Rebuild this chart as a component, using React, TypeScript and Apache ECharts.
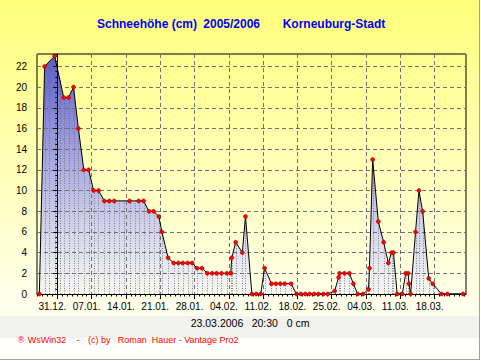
import React, { useEffect, useRef } from "react";
import * as echarts from "echarts";

// days relative to 31.12.2005 (0 = 31.12.)
const dayOffsets = [
  -3.67, -2.6, -0.55, 1.3, 2.3, 3.3, 4.3, 5.4, 6.4, 7.4, 8.4, 9.6, 10.6, 11.6, 14.75,
  16.6, 17.6, 18.7, 19.65, 20.7, 21.35, 22.6, 23.75, 24.7, 25.6, 26.6, 27.5, 28.5, 29.5,
  30.6, 31.6, 32.5, 33.5, 34.6, 35.4, 35.6, 36.4, 37.75, 38.4, 39.7, 40.6, 41.5, 42.3,
  43.7, 44.6, 45.5, 46.4, 47.7, 48.8, 49.7, 50.6, 51.5, 52.4, 53.3, 54.3, 55.2, 56.6,
  57.4, 57.6, 58.6, 59.6, 60.4, 61.3, 62.4, 63.5, 63.7, 64.35, 65.5, 66.6, 67.55, 68.2,
  68.6, 69.35, 70.4, 71.1, 71.6, 71.75, 72.1, 73.1, 73.8, 74.55, 75.8, 76.6, 78.4, 79.6,
  82.8,
];
const snowDepth = [
  0, 22, 23, 19, 19, 20, 16, 12, 12, 10, 10, 9, 9, 9, 9,
  9, 9, 8, 8, 7.5, 6, 3.5, 3, 3, 3, 3, 3, 2.5, 2.5,
  2, 2, 2, 2, 2, 2, 3.5, 5, 4, 7.5, 0, 0, 0, 2.5,
  1, 1, 1, 1, 1, 0, 0, 0, 0, 0, 0, 0, 0, 0.3,
  1.6, 2, 2, 2, 1, 0, 0, 0.45, 2.5, 13, 7, 5, 3, 4,
  4, 0, 0, 2, 2, 1, 0, 6, 10, 8, 1.5, 1, 0, 0,
  0,
];
const xTickDays = [0, 7, 14, 21, 28, 35, 42, 49, 56, 63, 70, 77];
const xTickLabels = [
  "31.12.", "07.01.", "14.01.", "21.01.", "28.01.", "04.02.",
  "11.02.", "18.02.", "25.02.", "04.03.", "11.03.", "18.03.",
];
const xMin = -4.15;
const xMax = 83.4;
const yMax = 23.2;

const points = dayOffsets.map((d, i) => [d, snowDepth[i]]);

// positions of the dotted daily drop lines (each reading, plus daily steps in gaps)
const dropDays: number[] = [];
dayOffsets.forEach((d, i) => {
  dropDays.push(d);
  const next = dayOffsets[i + 1];
  if (next !== undefined) {
    for (let t = d + 1; t < next - 0.5; t += 1) dropDays.push(t);
  }
});

const dailyTicks: number[] = [];
for (let t = Math.ceil(xMin); t <= Math.floor(xMax); t++) dailyTicks.push(t);

const narrow = "'Liberation Sans Narrow', 'Liberation Sans', Arial, sans-serif";
const sans = "'Liberation Sans', Arial, sans-serif";

export default function App() {
  const ref = useRef<HTMLDivElement>(null);
  useEffect(() => {
    const chart = echarts.init(ref.current!, null, { renderer: "svg" });
    const txt = (text: string, x: number, y: number, font: string, fill: string) => ({
      type: "text",
      silent: true,
      z: 10,
      style: { text, x, y, font, fill, verticalAlign: "middle", textVerticalAlign: "middle" },
    });
    const option: any = {
      animation: false,
      backgroundColor: "#ffffff",
      graphic: [
        {
          type: "rect", silent: true, z: -10,
          shape: { x: 0, y: 0, width: 479, height: 316 },
          style: {
            fill: {
              type: "linear", x: 0, y: 0, x2: 0, y2: 1,
              colorStops: [
                { offset: 0, color: "#ffff7a" },
                { offset: 1, color: "#fffff0" },
              ],
            },
          },
        },
        { type: "rect", silent: true, z: -10, shape: { x: 0, y: 316, width: 479, height: 22 }, style: { fill: "#f1f1ee" } },
        { type: "rect", silent: true, z: -10, shape: { x: 0, y: 338, width: 479, height: 21 }, style: { fill: "#fffffb" } },
        { type: "line", silent: true, z: 10, shape: { x1: 479.5, y1: 0, x2: 479.5, y2: 360 }, style: { stroke: "#a0a0a0", lineWidth: 1 } },
        { type: "line", silent: true, z: 10, shape: { x1: 0, y1: 359.5, x2: 480, y2: 359.5 }, style: { stroke: "#a0a0a0", lineWidth: 1 } },
        txt("Schneehöhe (cm)", 97, 23.5, `bold 12px ${sans}`, "#0000ff"),
        txt("2005/2006", 203.3, 23.5, `bold 12px ${sans}`, "#0000ff"),
        txt("Korneuburg-Stadt", 282.7, 23.5, `bold 12px ${sans}`, "#0000ff"),
        txt("23.03.2006", 190.7, 322.5, `10.5px ${sans}`, "#000000"),
        txt("20:30", 251.7, 322.5, `10.5px ${sans}`, "#000000"),
        txt("0 cm", 286.7, 322.5, `10.5px ${sans}`, "#000000"),
        txt("®", 17.7, 340, `9px ${sans}`, "#ff0000"),
        txt("WsWin32", 27.7, 340, `9px ${sans}`, "#ff0000"),
        txt("-", 76.5, 340, `9px ${sans}`, "#ff0000"),
        txt("(c) by", 88, 340, `9px ${sans}`, "#ff0000"),
        txt("Roman", 117.7, 340, `9px ${sans}`, "#ff0000"),
        txt("Hauer - Vantage Pro2", 151.7, 340, `9px ${sans}`, "#ff0000"),
      ],
      grid: {
        left: 37, top: 54, width: 429, height: 240,
        show: true, borderColor: "#000000", borderWidth: 1, backgroundColor: "transparent",
      },
      xAxis: [
        {
          type: "value", min: xMin, max: xMax, position: "bottom", z: 3,
          axisLine: { show: true, onZero: false, lineStyle: { color: "#000000", width: 1 } },
          axisTick: { show: true, length: 5, customValues: xTickDays, lineStyle: { color: "#000000" } },
          axisLabel: {
            show: true, customValues: xTickDays, margin: 7, fontSize: 10, fontFamily: narrow,
            color: "#000000", padding: [0, 10, 0, 0],
            formatter: (v: number) => {
              const i = xTickDays.indexOf(Math.round(v));
              return i >= 0 ? xTickLabels[i] : "";
            },
          },
          splitLine: { show: true, lineStyle: { color: "#707078", type: [4, 3], width: 1 } },
        },
        {
          type: "value", min: xMin, max: xMax, position: "bottom", z: 3,
          axisLine: { show: false },
          axisTick: { show: true, length: 2.5, customValues: dailyTicks, lineStyle: { color: "#000000" } },
          axisLabel: { show: false },
          splitLine: { show: false },
        },
      ],
      yAxis: {
        type: "value", min: 0, max: yMax, interval: 2, z: 3,
        axisLine: { show: true, lineStyle: { color: "#000000", width: 1 } },
        axisTick: { show: true, length: 4, lineStyle: { color: "#000000" } },
        minorTick: { show: true, splitNumber: 4, length: 2, lineStyle: { color: "#000000" } },
        axisLabel: {
          margin: 10, fontSize: 10, fontFamily: narrow, color: "#000000", showMaxLabel: false,
        },
        splitLine: { show: true, lineStyle: { color: "#707078", type: [4, 3], width: 1 } },
      },
      series: [
        {
          type: "line", data: points, z: 1, showSymbol: false,
          lineStyle: { width: 0, opacity: 0 },
          areaStyle: {
            opacity: 1,
            color: {
              type: "linear", x: 0, y: 54, x2: 0, y2: 294, global: true,
              colorStops: [
                { offset: 0, color: "#5a5ac8" },
                { offset: 0.45, color: "#aaaae0" },
                { offset: 0.75, color: "#d6d6ec" },
                { offset: 1, color: "#f8f8f0" },
              ],
            },
          },
        },
        {
          type: "custom", z: 2,
          data: dropDays.map((d) => [d, 0]),
          encode: { x: 0, y: 1 },
          renderItem: (params: any, api: any) => {
            const d = api.value(0);
            let i = 0;
            while (i < dayOffsets.length - 2 && dayOffsets[i + 1] <= d) i++;
            const p0 = api.coord([dayOffsets[i], snowDepth[i]]);
            const p1 = api.coord([dayOffsets[i + 1], snowDepth[i + 1]]);
            const base = api.coord([d, 0]);
            const t = p1[0] === p0[0] ? 0 : (base[0] - p0[0]) / (p1[0] - p0[0]);
            const y = p0[1] + t * (p1[1] - p0[1]);
            return {
              type: "line",
              shape: { x1: Math.round(base[0]) + 0.5, y1: base[1], x2: Math.round(base[0]) + 0.5, y2: y },
              style: { stroke: "#6a6a78", lineWidth: 1, lineDash: [1, 1.5], opacity: 0.8 },
            };
          },
        },
        {
          type: "line", data: points, z: 5, symbol: "circle", symbolSize: 4, showAllSymbol: true,
          lineStyle: { color: "#000000", width: 1 },
          itemStyle: { color: "#ff0000", borderColor: "#900000", borderWidth: 0.5 },
        },
      ],
    };
    chart.setOption(option);
    return () => chart.dispose();
  }, []);
  return (
    <div
      ref={ref}
      style={{ position: "fixed", left: 0, top: 0, width: 481, height: 361 }}
    />
  );
}
